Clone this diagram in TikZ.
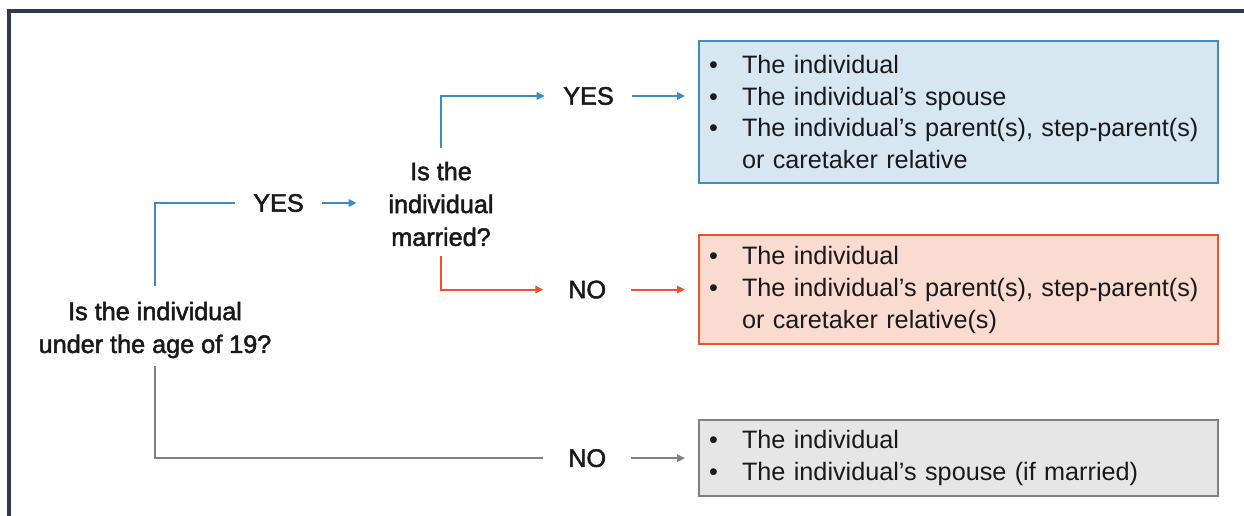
\documentclass[tikz,border=0pt]{standalone}
\usepackage{fontspec}
\setmainfont{Liberation Sans}
\newfontfamily\qfont{Liberation Sans}[FakeBold=2]
\usetikzlibrary{arrows.meta, positioning, calc}

\definecolor{framecol}{RGB}{47,58,78}
\definecolor{blueln}{RGB}{62,140,194}
\definecolor{bluefill}{RGB}{215,231,241}
\definecolor{redln}{RGB}{232,84,46}
\definecolor{redfill}{RGB}{249,219,210}
\definecolor{grayln}{RGB}{128,128,128}
\definecolor{grayfill}{RGB}{230,230,230}

\newcommand{\bitem}[1]{\makebox[0.66cm][l]{\textbullet}#1}
\newcommand{\bcont}[1]{\hspace*{0.66cm}#1}

\begin{document}
\begin{tikzpicture}[
    x=0.02cm, y=0.02cm,
    every node/.style={text=black!90},
    ques/.style={align=center, inner sep=0pt,
                 font=\qfont\fontsize{14.35}{18.7}\selectfont},
    ans/.style={inner sep=0pt, minimum width=1.74cm, minimum height=0.5cm,
                font=\qfont\fontsize{14.35}{18.7}\selectfont},
    outbox/.style={draw, line width=1.2pt, text width=9.98cm,
                   inner xsep=0.2cm, inner ysep=0.1cm, align=left,
                   font=\fontsize{14.35}{18.2}\selectfont},
    ln/.style={line width=1.1pt},
    arr/.style={-{Triangle[length=0.16cm, width=0.15cm]}, line width=1.1pt},
  ]
  \useasboundingbox (0,0) rectangle (1244,516);

  % Frame
  \draw[framecol, line width=0.07cm] (9,0) -- (9,505) -- (1244,505);

  % Questions
  \node[ques] (q1) at (155,186) {Is the individual\\under the age of 19?};
  \node[ques] (q2) at (441,312) {Is the\\individual\\married?};

  % Outcome boxes
  \node[outbox, draw=blueln, fill=bluefill, minimum height=2.84cm]
       (blueBox) at (958.5,404)
       {\bitem{The individual}\\
        \bitem{The individual's spouse}\\
        \bitem{The individual's parent(s), step-parent(s)}\\
        \bcont{or caretaker relative}};
  \node[outbox, draw=redln, fill=redfill, minimum height=2.18cm,
        below=1.0cm of blueBox] (redBox)
       {\bitem{The individual}\\
        \bitem{The individual's parent(s), step-parent(s)}\\
        \bcont{or caretaker relative(s)}};
  \node[outbox, draw=grayln, fill=grayfill, minimum height=1.52cm,
        below=1.48cm of redBox] (grayBox)
       {\bitem{The individual}\\
        \bitem{The individual's spouse (if married)}};

  % Answers
  \node[ans] (yes1) at (278.5,313) {YES};
  \node[ans] (yes2) at (588.5,420) {YES};
  \node[ans, left=1.34cm of redBox] (no2) {NO};
  \node[ans, left=1.34cm of grayBox] (no1) {NO};

  % Connectors
  \draw[ln, blueln, shorten <=0.3cm] (q1.north) |- (yes1.west);
  \draw[arr, blueln, shorten >=0.63cm] (yes1.east) -- (yes1.east -| q2.west);
  \draw[arr, blueln, shorten <=0.28cm] (q2.north) |- (yes2.west);
  \draw[arr, blueln, shorten >=0.26cm] (yes2.east) -- (yes2.east -| blueBox.west);
  \draw[arr, redln, shorten <=0.2cm] (q2.south) |- (no2.west);
  \draw[arr, redln, shorten >=0.26cm] (no2.east) -- (no2.east -| redBox.west);
  \draw[ln, grayln, shorten <=0.14cm] (q1.south) |- (no1.west);
  \draw[arr, grayln, shorten >=0.26cm] (no1.east) -- (no1.east -| grayBox.west);
\end{tikzpicture}
\end{document}
